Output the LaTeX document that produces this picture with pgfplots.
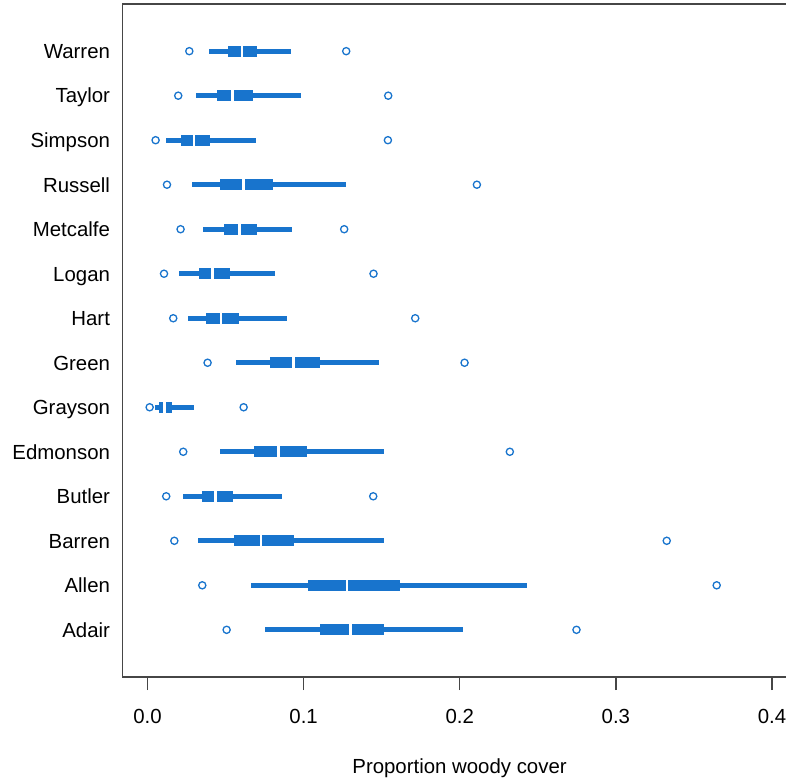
\documentclass[border=0pt]{standalone}
\usepackage{fontspec}
\setmainfont{Liberation Sans}
\usepackage{pgfplots}
\usepackage{pgfplotstable}
\pgfplotsset{compat=1.18}
\definecolor{bx}{RGB}{24,116,205}
\definecolor{frame}{RGB}{70,70,70}

\pgfplotstableread{
y name omin wlo q1 med q3 whi omax
1 Adair 0.0507 0.0754 0.1102 0.1299 0.1518 0.2020 0.2748
2 Allen 0.0351 0.0661 0.1030 0.1279 0.1617 0.2430 0.3646
3 Barren 0.0172 0.0321 0.0552 0.0727 0.0938 0.1518 0.3326
4 Butler 0.0120 0.0227 0.0347 0.0437 0.0549 0.0859 0.1446
5 Edmonson 0.0229 0.0462 0.0680 0.0838 0.1019 0.1516 0.2321
6 Grayson 0.0014 0.0048 0.0076 0.0110 0.0159 0.0296 0.0616
7 Green 0.0385 0.0569 0.0786 0.0934 0.1102 0.1482 0.2031
8 Hart 0.0165 0.0259 0.0377 0.0470 0.0584 0.0893 0.1715
9 Logan 0.0106 0.0200 0.0328 0.0415 0.0528 0.0818 0.1448
10 Metcalfe 0.0212 0.0355 0.0492 0.0588 0.0699 0.0923 0.1260
11 Russell 0.0125 0.0287 0.0466 0.0616 0.0801 0.1273 0.2110
12 Simpson 0.0052 0.0120 0.0217 0.0298 0.0398 0.0693 0.1540
13 Taylor 0.0197 0.0313 0.0445 0.0545 0.0673 0.0983 0.1542
14 Warren 0.0268 0.0394 0.0517 0.0605 0.0699 0.0917 0.1273
}\data

\newcommand{\lblfont}{\fontsize{20.4}{24}\selectfont}

\begin{document}
\begin{tikzpicture}[x=1pt,y=1pt]
\path[use as bounding box] (-122.5,-101) rectangle (663.5,677);
\begin{axis}[
  at={(0,0)}, anchor=south west,
  scale only axis, width=663.5pt, height=673pt,
  xmin=-0.016, xmax=0.409,
  ymin=-0.06, ymax=15.06,
  clip=false,
  axis lines=left,
  axis line style={-, line width=1.6pt, draw=frame},
  tick align=outside,
  major tick length=13pt,
  xtick={0,0.1,0.2,0.3,0.4},
  xticklabels={0.0,0.1,0.2,0.3,0.4},
  x tick style={line width=1.4pt, draw=frame},
  ytick={1,...,14},
  yticklabels={Adair,Allen,Barren,Butler,Edmonson,Grayson,Green,Hart,Logan,Metcalfe,Russell,Simpson,Taylor,Warren},
  y tick style={draw=none},
  tick label style={font=\lblfont},
  xticklabel style={yshift=-16pt},
  yticklabel style={anchor=base east, yshift=-7.3pt, xshift=4pt},
  xlabel={Proportion woody cover},
  xlabel style={font=\lblfont, at={(rel axis cs:0.508,0)}, anchor=base, yshift=-96pt},
  /pgf/number format/assume math mode=true,
]
% whiskers
\addplot[draw=none, no markers, forget plot,
  error bars/.cd, x dir=both, x explicit, error mark=none,
  error bar style={draw=bx, line width=5.3pt}]
  table[x=med, y=y,
        x error plus expr=\thisrow{whi}-\thisrow{med},
        x error minus expr=\thisrow{med}-\thisrow{wlo}] {\data};
% boxes
\addplot[draw=none, no markers, forget plot,
  error bars/.cd, x dir=both, x explicit, error mark=none,
  error bar style={draw=bx, line width=10.7pt}]
  table[x=med, y=y,
        x error plus expr=\thisrow{q3}-\thisrow{med},
        x error minus expr=\thisrow{med}-\thisrow{q1}] {\data};
% medians
\addplot[draw=none, no markers, forget plot,
  error bars/.cd, y dir=both, y fixed=0.13, error mark=none,
  error bar style={draw=white, line width=2.6pt}]
  table[x=med, y=y] {\data};
% outliers
\addplot[only marks, mark=o, mark size=3.6pt, mark options={draw=bx, line width=1.3pt}]
  table[x=omin, y=y] {\data};
\addplot[only marks, mark=o, mark size=3.6pt, mark options={draw=bx, line width=1.3pt}]
  table[x=omax, y=y] {\data};
\draw[line width=1.6pt, draw=frame] (rel axis cs:0,1) -- (rel axis cs:1,1);
\end{axis}
\end{tikzpicture}
\end{document}
